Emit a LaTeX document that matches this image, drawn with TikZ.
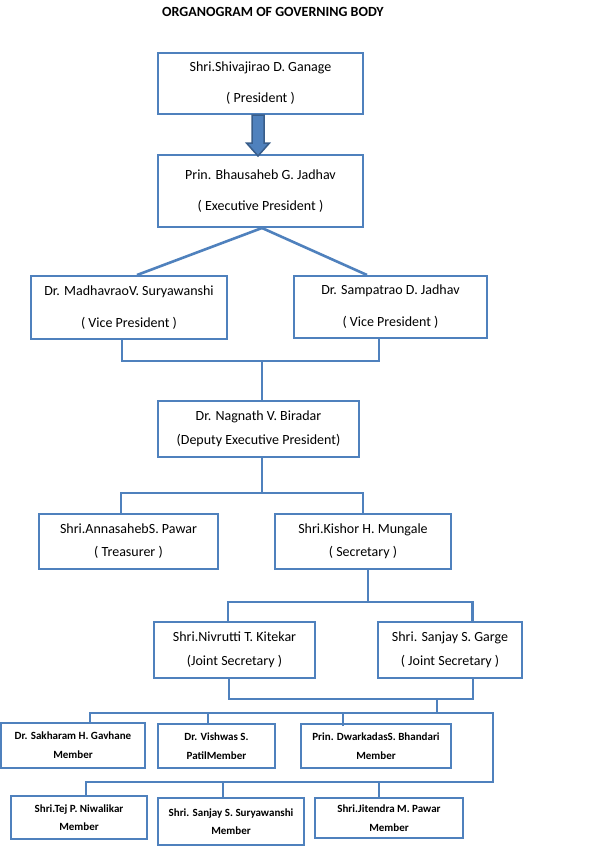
\documentclass[tikz,border=0pt]{standalone}
\usepackage{fontspec}
\setmainfont{Carlito}
\usetikzlibrary{calc}
\definecolor{boxblue}{HTML}{4F81BD}
\definecolor{darkblue}{HTML}{385D8A}
\tikzset{
  box/.style={draw=boxblue, line width=2pt, fill=white, inner sep=0pt, align=center, text=black},
  reg/.style={font=\fontsize{14}{#1}\selectfont},
  mem/.style={font=\bfseries\fontsize{11}{#1}\selectfont},
  conn/.style={draw=boxblue, line width=2.6pt},
  blockarrow/.style={fill=boxblue, draw=darkblue, line width=1.5pt, line join=miter}
}
\begin{document}
\begin{tikzpicture}[x=1pt,y=-1pt]
\fill[white] (0,0) rectangle (609,846);
\useasboundingbox (0,0) rectangle (609,846);

\node[anchor=base, font=\bfseries\fontsize{14}{16}\selectfont] (title) at (273,16) {ORGANOGRAM OF GOVERNING BODY};

\node[box, reg=31, minimum width=205pt, minimum height=61pt] (pres) at (260.5,83.5) {Shri.Shivajirao D. Ganage\\( President )};
\node[box, reg=31, minimum width=205pt, minimum height=72pt] (exec) at (260.5,191) {Prin. Bhausaheb G. Jadhav\\( Executive President )};
\node[box, reg=32, minimum width=196pt, minimum height=63pt] (vp1) at (129,307.5) {Dr. MadhavraoV. Suryawanshi\\( Vice President )};
\node[box, reg=32, minimum width=193pt, minimum height=62pt] (vp2) at (390.5,307) {Dr. Sampatrao D. Jadhav\\( Vice President )};
\node[box, reg=24, minimum width=201pt, minimum height=56pt] (dep) at (258.5,429) {Dr. Nagnath V. Biradar\\(Deputy Executive President)};
\node[box, reg=23, minimum width=179pt, minimum height=55pt] (tre) at (128.5,541.5) {Shri.AnnasahebS. Pawar\\( Treasurer )};
\node[box, reg=23, minimum width=176pt, minimum height=55pt] (sec) at (363,541.5) {Shri.Kishor H. Mungale\\( Secretary )};
\node[box, reg=24, minimum width=161pt, minimum height=56pt] (js1) at (234.5,650) {Shri.Nivrutti T. Kitekar\\(Joint Secretary )};
\node[box, reg=24, minimum width=144pt, minimum height=56pt] (js2) at (450,650) {Shri. Sanjay S. Garge\\( Joint Secretary )};

\node[box, mem=19, minimum width=144pt, minimum height=45pt] (m1) at (73,745.5) {Dr. Sakharam H. Gavhane\\Member};
\node[box, mem=19, minimum width=117pt, minimum height=44pt] (m2) at (216.5,746) {Dr. Vishwas S.\\PatilMember};
\node[box, mem=19, minimum width=150pt, minimum height=44pt] (m3) at (376,746) {Prin. DwarkadasS. Bhandari\\Member};
\node[box, mem=18, minimum width=136pt, minimum height=43pt] (m4) at (79,817.5) {Shri.Tej P. Niwalikar\\Member};
\node[box, mem=18, minimum width=146pt, minimum height=47pt] (m5) at (231,821.5) {Shri. Sanjay S. Suryawanshi\\Member};
\node[box, mem=19, minimum width=148pt, minimum height=40pt] (m6) at (389,818) {Shri.Jitendra M. Pawar\\Member};

% block arrow
\coordinate (a0) at ($(pres.south)+(-2.5,0)$);
\draw[blockarrow, shift={(a0)}] (-6,0) -- (-6,28) -- (-11.5,28) -- (0,41) -- (11.5,28) -- (6,28) -- (6,0) -- cycle;

% exec to VPs
\draw[conn] ($(exec.south)+(1.5,0)$) -- ($(vp1.north)+(8,0)$);
\draw[conn] ($(exec.south)+(1.5,0)$) -- ($(vp2.north)+(-23.5,0)$);

% VPs to deputy
\coordinate (j1) at (262,361);
\draw[conn] ($(vp1.south)+(-7,0)$) |- (j1);
\draw[conn] ($(vp2.south)+(-11.5,0)$) |- (j1);
\draw[conn] (j1) -- (dep.north -| j1);

% deputy to treasurer / secretary
\coordinate (j2) at (262,493);
\draw[conn] (dep.south -| j2) -- (j2);
\draw[conn] (j2) -| ($(tre.north)+(-7.5,0)$);
\draw[conn] (j2) -| (sec.north);

% secretary to joint secretaries
\coordinate (j3) at (368,602);
\draw[conn] (sec.south -| j3) -- (j3);
\draw[conn] (j3) -| ($(js1.north)+(-6.5,0)$);
\draw[conn] (j3) -| ($(js2.north)+(22.5,0)$);

% joint secretaries to members
\coordinate (j4) at (437,699);
\coordinate (j5) at (437,713);
\draw[conn] ($(js1.south)+(-5.5,0)$) |- (j4) -| ($(js2.south)+(23,0)$);
\draw[conn] (j4) -- (j5);

\coordinate (b1) at (493,713);
\coordinate (b2) at (493,782);
\draw[conn] ($(m1.north)+(17,0)$) |- (b1) -- (b2) -| ($(m4.north)+(7,0)$);
\draw[conn] ($(m2.north)+(-8.5,0)$) |- (b1);
\draw[conn] ($(m3.north)+(-33,3)$) |- (b1);
\draw[conn] ($(m5.north)+(-8,0)$) |- (b2);
\draw[conn] ($(m6.north)+(-10,0)$) |- (b2);
\end{tikzpicture}
\end{document}
